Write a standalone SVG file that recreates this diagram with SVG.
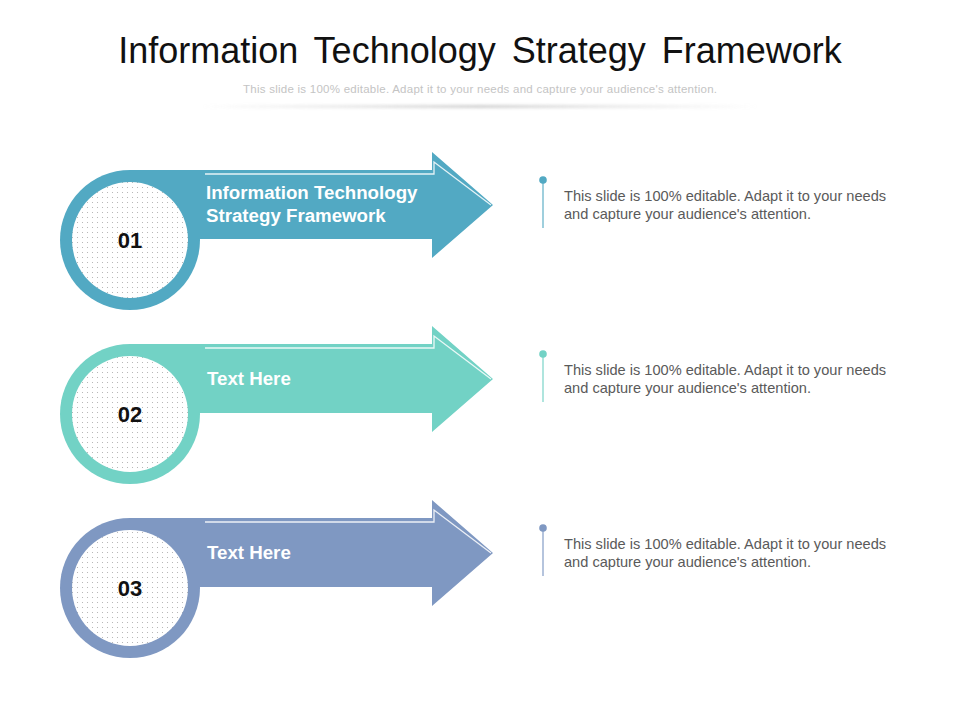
<svg xmlns="http://www.w3.org/2000/svg" width="960" height="720" viewBox="0 0 960 720">
<defs>
  <pattern id="dots" x="0" y="0" width="5" height="5" patternUnits="userSpaceOnUse">
    <rect width="5" height="5" fill="#ffffff"/>
    <circle cx="2.5" cy="2.5" r="0.55" fill="#acacac"/>
  </pattern>
  <linearGradient id="lineTop" x1="0" y1="0" x2="1" y2="0">
    <stop offset="0" stop-color="#e6e6e6" stop-opacity="0"/>
    <stop offset="0.5" stop-color="#e2e2e2"/>
    <stop offset="1" stop-color="#e6e6e6" stop-opacity="0"/>
  </linearGradient>
  <linearGradient id="lineBot" x1="0" y1="0" x2="1" y2="0">
    <stop offset="0" stop-color="#d0d0d0" stop-opacity="0"/>
    <stop offset="0.5" stop-color="#c4c4c4"/>
    <stop offset="1" stop-color="#d0d0d0" stop-opacity="0"/>
  </linearGradient>
  <filter id="blur" x="-10%" y="-200%" width="120%" height="500%">
    <feGaussianBlur stdDeviation="1.5"/>
  </filter>
</defs>
<style>
  .title{font-family:"Liberation Sans",Arial,sans-serif;font-size:36px;fill:#111111;word-spacing:6px}
  .sub{font-family:"Liberation Sans",Arial,sans-serif;font-size:11.5px;fill:#c4c4c4}
  .lbl{font-family:"Liberation Sans",Arial,sans-serif;font-size:18.7px;font-weight:bold;fill:#ffffff}
  .num{font-family:"Liberation Sans",Arial,sans-serif;font-size:22px;font-weight:bold;fill:#111111}
  .desc{font-family:"Liberation Sans",Arial,sans-serif;font-size:14.6px;fill:#5a5a5a}
  .hl{fill:none;stroke:#ffffff;stroke-width:1.3;opacity:0.85}
</style>
<rect width="960" height="720" fill="#ffffff"/>

<g id="header">
  <line x1="255" y1="20" x2="705" y2="20" stroke="url(#lineTop)" stroke-width="1.2"/>
  <text class="title" x="480" y="63" text-anchor="middle">Information Technology Strategy Framework</text>
  <text class="sub" x="480" y="93" text-anchor="middle" textLength="474" lengthAdjust="spacing">This slide is 100% editable. Adapt it to your needs and capture your audience's attention.</text>
  <rect x="200" y="105" width="560" height="3" fill="url(#lineBot)" filter="url(#blur)" opacity="0.8"/>
  <line x1="170" y1="105" x2="790" y2="105" stroke="url(#lineBot)" stroke-width="1"/>
</g>

<g id="item1">
  <circle cx="130" cy="240" r="70" fill="#52A9C3"/>
  <path d="M130,170 L432,170 L432,152 L493,205 L432,258 L432,239 L130,239 Z" fill="#52A9C3"/>
  <polyline class="hl" points="205,174 434,174 434,162 491,205"/>
  <circle cx="130" cy="240" r="58" fill="url(#dots)"/>
  <text class="num" x="130" y="248" text-anchor="middle">01</text>
  <text class="lbl" x="206" y="199">Information Technology</text>
  <text class="lbl" x="206" y="222">Strategy Framework</text>
</g>

<g id="item2">
  <circle cx="130" cy="414" r="70" fill="#72D2C5"/>
  <path d="M130,344 L432,344 L432,326 L493,379 L432,432 L432,413 L130,413 Z" fill="#72D2C5"/>
  <polyline class="hl" points="205,348 434,348 434,336 491,379"/>
  <circle cx="130" cy="414" r="58" fill="url(#dots)"/>
  <text class="num" x="130" y="422" text-anchor="middle">02</text>
  <text class="lbl" x="207" y="385">Text Here</text>
</g>

<g id="item3">
  <circle cx="130" cy="588" r="70" fill="#7F98C2"/>
  <path d="M130,518 L432,518 L432,500 L493,553 L432,606 L432,587 L130,587 Z" fill="#7F98C2"/>
  <polyline class="hl" points="205,522 434,522 434,510 491,553"/>
  <circle cx="130" cy="588" r="58" fill="url(#dots)"/>
  <text class="num" x="130" y="596" text-anchor="middle">03</text>
  <text class="lbl" x="207" y="559">Text Here</text>
</g>

<g id="connectors">
  <line x1="543" y1="180" x2="543" y2="228" stroke="#7FBFD2" stroke-width="1.5"/>
  <circle cx="543" cy="180" r="3.8" fill="#52A9C3"/>
  <line x1="543" y1="354" x2="543" y2="402" stroke="#95DDD3" stroke-width="1.5"/>
  <circle cx="543" cy="354" r="3.8" fill="#72D2C5"/>
  <line x1="543" y1="528" x2="543" y2="576" stroke="#9CB0D2" stroke-width="1.5"/>
  <circle cx="543" cy="528" r="3.8" fill="#7F98C2"/>
</g>

<g id="desc1">
  <text class="desc" x="564" y="201">This slide is 100% editable. Adapt it to your needs</text>
  <text class="desc" x="564" y="219">and capture your audience's attention.</text>
</g>
<g id="desc2">
  <text class="desc" x="564" y="375">This slide is 100% editable. Adapt it to your needs</text>
  <text class="desc" x="564" y="393">and capture your audience's attention.</text>
</g>
<g id="desc3">
  <text class="desc" x="564" y="549">This slide is 100% editable. Adapt it to your needs</text>
  <text class="desc" x="564" y="567">and capture your audience's attention.</text>
</g>
</svg>
